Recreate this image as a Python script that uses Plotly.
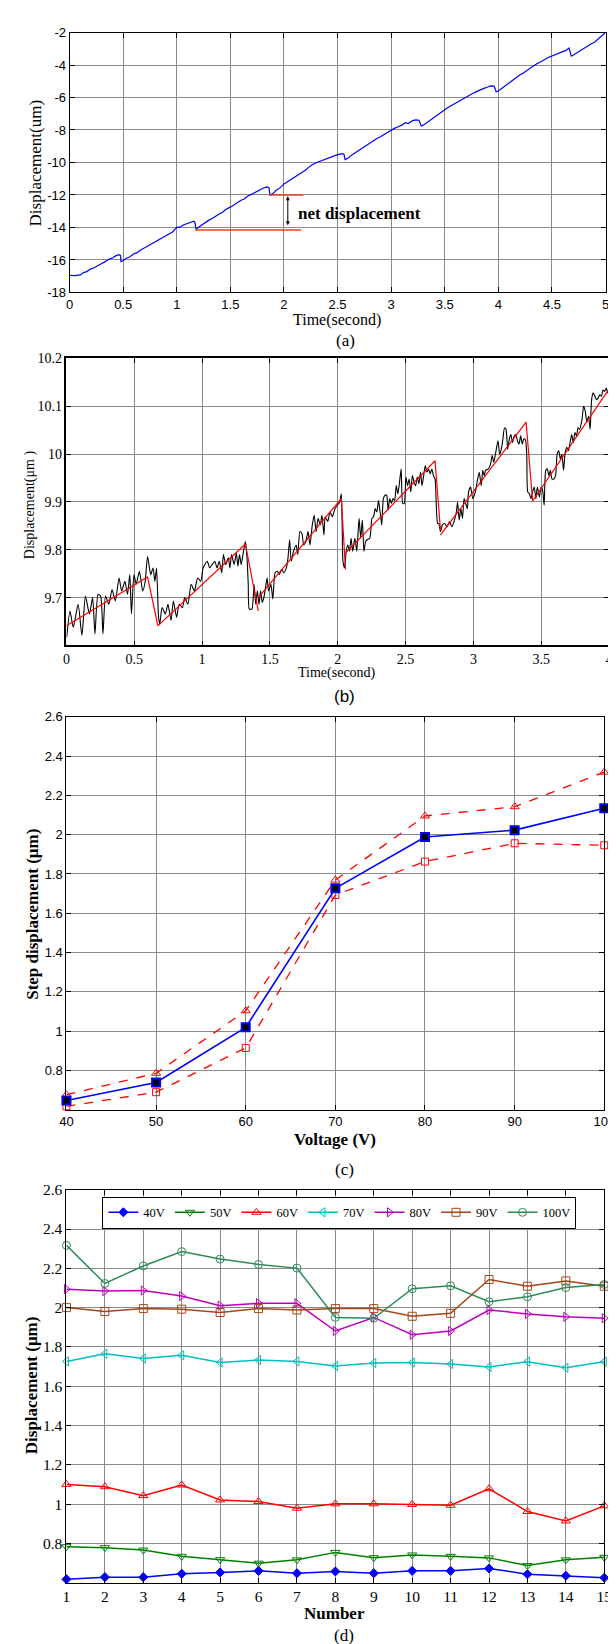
import plotly.graph_objects as go

W, H = 616, 1644
TIMES = "Liberation Serif, Times New Roman, serif"
ARIAL = "Liberation Sans, Arial, sans-serif"

# ---------------- Panel (a) data ----------------
a_time = [0, 0.05, 0.1, 0.13, 0.16, 0.2, 0.23, 0.26, 0.3, 0.33, 0.36, 0.4, 0.43, 0.46, 0.475, 0.48, 0.5,
          0.53, 0.56, 0.6, 0.63, 0.66, 0.7, 0.73, 0.76, 0.8, 0.83, 0.86, 0.9, 0.93, 0.96, 1.0, 1.03, 1.06, 1.1, 1.13, 1.16, 1.17, 1.18,
          1.2, 1.23, 1.26, 1.3, 1.33, 1.36, 1.4, 1.43, 1.46, 1.5, 1.53, 1.56, 1.6, 1.63, 1.66, 1.7, 1.73, 1.76, 1.8, 1.84, 1.86, 1.87,
          1.9, 1.93, 1.96, 2.0, 2.03, 2.06, 2.1, 2.13, 2.16, 2.2, 2.23, 2.26, 2.3, 2.33, 2.36, 2.4, 2.43, 2.46, 2.5, 2.55, 2.56, 2.57,
          2.6, 2.63, 2.66, 2.7, 2.73, 2.76, 2.8, 2.83, 2.86, 2.9, 2.93, 2.96, 3.0, 3.03, 3.06, 3.1, 3.13, 3.16, 3.2, 3.23, 3.26, 3.28,
          3.3, 3.33, 3.36, 3.4, 3.43, 3.46, 3.5, 3.53, 3.56, 3.6, 3.63, 3.66, 3.7, 3.73, 3.76, 3.8, 3.83, 3.86, 3.9, 3.93, 3.96, 3.98,
          4.0, 4.03, 4.06, 4.1, 4.13, 4.16, 4.2, 4.23, 4.26, 4.3, 4.33, 4.36, 4.4, 4.43, 4.46, 4.5, 4.53, 4.56, 4.6, 4.63, 4.66, 4.68,
          4.7, 4.73, 4.76, 4.8, 4.83, 4.86, 4.9, 4.93, 4.96, 5.0]
a_disp = [-16.95, -16.96, -16.92, -16.78, -16.72, -16.55, -16.48, -16.35, -16.22, -16.12, -15.98, -15.88, -15.75, -15.68, -15.72, -16.1, -16.05,
          -15.9, -15.82, -15.62, -15.55, -15.4, -15.25, -15.15, -15.02, -14.88, -14.78, -14.65, -14.5, -14.42, -14.28, -14.0, -13.98, -13.85, -13.75, -13.68, -13.62, -13.7, -14.12,
          -14.0, -13.85, -13.75, -13.55, -13.45, -13.3, -13.15, -13.05, -12.88, -12.75, -12.62, -12.5, -12.32, -12.25, -12.08, -11.95, -11.85, -11.7, -11.6, -11.5, -11.55, -12.0,
          -11.9, -11.7, -11.58, -11.32, -11.2, -11.05, -10.9, -10.78, -10.65, -10.48, -10.3, -10.15, -10.02, -9.95, -9.85, -9.75, -9.68, -9.6, -9.52, -9.45, -9.5, -9.82,
          -9.72, -9.55, -9.42, -9.25, -9.1, -8.98, -8.8, -8.7, -8.55, -8.42, -8.3, -8.15, -8.0, -7.9, -7.82, -7.7, -7.55, -7.6, -7.42, -7.38, -7.4, -7.75,
          -7.7, -7.55, -7.4, -7.2, -7.05, -6.92, -6.75, -6.62, -6.5, -6.35, -6.22, -6.1, -5.98, -5.85, -5.75, -5.62, -5.52, -5.45, -5.35, -5.28, -5.3, -5.65,
          -5.6, -5.45, -5.3, -5.08, -4.95, -4.8, -4.62, -4.5, -4.38, -4.2, -4.05, -3.92, -3.8, -3.68, -3.55, -3.45, -3.38, -3.3, -3.18, -3.1, -2.95, -3.45,
          -3.38, -3.25, -3.15, -2.98, -2.85, -2.72, -2.58, -2.4, -2.25, -2.0]
a_net_top_x = [1.86, 2.18]
a_net_top_y = [-12.0, -12.0]
a_net_bot_x = [1.175, 2.16]
a_net_bot_y = [-14.15, -14.15]

# ---------------- Panel (b) data ----------------
b_time = [0.002, 0.026, 0.05, 0.086, 0.114, 0.14, 0.169, 0.193, 0.21, 0.233, 0.252, 0.269, 0.288, 0.312, 0.336, 0.36,
          0.388, 0.407, 0.431, 0.45, 0.467, 0.479, 0.498, 0.514, 0.538, 0.562, 0.579, 0.598, 0.621, 0.638, 0.652, 0.664,
          0.679, 0.688, 0.705, 0.729, 0.748, 0.771, 0.788, 0.812, 0.831, 0.855, 0.871, 0.895, 0.919, 0.943, 0.967, 0.99, 1.007,
          1.038, 1.055, 1.074, 1.093, 1.11, 1.126, 1.145, 1.157, 1.174, 1.193, 1.205, 1.217, 1.236, 1.252, 1.264, 1.276, 1.288,
          1.305, 1.319, 1.331, 1.34, 1.348, 1.367, 1.383, 1.395, 1.407, 1.419, 1.431, 1.443, 1.455, 1.471, 1.479, 1.49, 1.507,
          1.521, 1.538, 1.555, 1.569, 1.586, 1.602, 1.621, 1.633, 1.645, 1.657, 1.674, 1.693, 1.705, 1.721, 1.736, 1.748, 1.764,
          1.781, 1.795, 1.812, 1.826, 1.84, 1.855, 1.871, 1.883, 1.898, 1.907, 1.926, 1.943, 1.96, 1.979,
          2.014, 2.026, 2.033, 2.038, 2.05, 2.062, 2.074, 2.086, 2.098, 2.11, 2.126, 2.14, 2.157, 2.169, 2.181, 2.193, 2.205,
          2.217, 2.236, 2.252, 2.264, 2.276, 2.288, 2.3, 2.312, 2.324, 2.336, 2.348, 2.36, 2.371, 2.383, 2.395, 2.407, 2.419,
          2.431, 2.443, 2.455, 2.467, 2.479, 2.49, 2.502, 2.514, 2.526, 2.538, 2.55, 2.562, 2.574, 2.586, 2.598, 2.61, 2.621,
          2.633, 2.645, 2.657, 2.669, 2.681, 2.693, 2.705, 2.717, 2.726, 2.736, 2.745, 2.757, 2.771, 2.788, 2.805, 2.824, 2.84,
          2.86, 2.874, 2.883, 2.895, 2.907, 2.919, 2.931, 2.943, 2.955, 2.964, 2.979, 2.995,
          3.014, 3.031, 3.043, 3.057, 3.069, 3.079, 3.09, 3.11, 3.126, 3.138, 3.15, 3.164, 3.181, 3.193, 3.205, 3.217, 3.229,
          3.24, 3.252, 3.264, 3.276, 3.288, 3.3, 3.312, 3.324, 3.336, 3.348, 3.36, 3.371, 3.383, 3.393, 3.4, 3.412, 3.424,
          3.436, 3.448, 3.46, 3.471, 3.486, 3.498, 3.51, 3.521, 3.533, 3.545, 3.555, 3.567, 3.579, 3.593, 3.605, 3.617, 3.629,
          3.64, 3.652, 3.664, 3.676, 3.688, 3.7, 3.712, 3.724, 3.736, 3.748, 3.76, 3.771, 3.783, 3.8, 3.812, 3.824, 3.836,
          3.848, 3.86, 3.871, 3.883, 3.895, 3.907, 3.919, 3.931, 3.943, 3.955, 3.967, 3.979, 3.99, 4.0]
b_disp = [9.617, 9.672, 9.638, 9.686, 9.621, 9.703, 9.666, 9.700, 9.624, 9.707, 9.703, 9.624, 9.703, 9.686, 9.717, 9.693,
          9.741, 9.714, 9.734, 9.707, 9.748, 9.666, 9.748, 9.728, 9.755, 9.714, 9.731, 9.786, 9.748, 9.762, 9.734, 9.762,
          9.659, 9.645, 9.679, 9.666, 9.686, 9.652, 9.693, 9.659, 9.686, 9.679, 9.700, 9.686, 9.728, 9.714, 9.741, 9.734, 9.762,
          9.776, 9.762, 9.769, 9.776, 9.762, 9.776, 9.752, 9.790, 9.769, 9.783, 9.762, 9.790, 9.769, 9.793, 9.766, 9.790, 9.769,
          9.797, 9.817, 9.783, 9.728, 9.676, 9.676, 9.728, 9.686, 9.714, 9.686, 9.714, 9.690, 9.700, 9.728, 9.741, 9.714, 9.728,
          9.697, 9.752, 9.755, 9.748, 9.759, 9.752, 9.762, 9.783, 9.821, 9.776, 9.797, 9.810, 9.790, 9.838, 9.834, 9.810, 9.817,
          9.838, 9.810, 9.852, 9.872, 9.838, 9.866, 9.852, 9.872, 9.831, 9.869, 9.859, 9.879, 9.869, 9.886,
          9.900, 9.917, 9.838, 9.776, 9.762, 9.797, 9.810, 9.797, 9.824, 9.797, 9.824, 9.797, 9.866, 9.824, 9.862, 9.797, 9.817,
          9.821, 9.824, 9.866, 9.869, 9.886, 9.879, 9.903, 9.879, 9.852, 9.907, 9.914, 9.914, 9.883, 9.907, 9.897, 9.907, 9.903,
          9.934, 9.917, 9.941, 9.969, 9.897, 9.897, 9.952, 9.934, 9.948, 9.921, 9.955, 9.941, 9.934, 9.952, 9.938, 9.962, 9.934,
          9.955, 9.976, 9.962, 9.969, 9.959, 9.969, 9.955, 9.948, 9.893, 9.855, 9.855, 9.838, 9.852, 9.855, 9.848, 9.859, 9.848,
          9.862, 9.879, 9.900, 9.862, 9.886, 9.866, 9.907, 9.897, 9.886, 9.921, 9.931, 9.907,
          9.921, 9.948, 9.962, 9.934, 9.966, 9.955, 9.966, 9.969, 9.979, 9.997, 9.983, 10.003, 10.028, 10.000, 10.010, 10.031, 10.055,
          10.052, 10.010, 10.031, 10.041, 10.024, 10.038, 10.041, 10.028, 10.021, 10.038, 10.021, 10.032, 10.030, 9.997, 9.921, 9.917, 9.907,
          9.921, 9.931, 9.907, 9.931, 9.910, 9.931, 9.924, 9.893, 9.966, 9.969, 9.955, 9.966, 9.948, 9.948, 9.955, 10.000, 10.007,
          9.990, 10.000, 9.966, 10.003, 10.014, 10.007, 10.024, 10.041, 10.024, 10.045, 10.038, 10.055, 10.052, 10.072, 10.100, 10.090, 10.066,
          10.079, 10.052, 10.114, 10.128, 10.121, 10.114, 10.117, 10.124, 10.121, 10.134, 10.131, 10.138, 10.128, 10.136]
b_fit_time = [0, 0.598, 0.674, 1.319, 1.414, None, 1.414, 2.026, 2.057, None, 2.057, 2.717, 2.757, None, 2.757, 3.388, 3.436, 4.0]
b_fit_disp = [9.641, 9.743, 9.641, 9.812, 9.672, None, 9.700, 9.907, 9.759, None, 9.793, 9.986, 9.841, None, 9.831, 10.067, 9.902, 10.136]

# ---------------- Panel (c) data ----------------
c_voltage = [40, 50, 60, 70, 80, 90, 100]
c_mean = [0.648, 0.739, 1.020, 1.727, 1.988, 2.023, 2.134]
c_max = [0.677, 0.786, 1.104, 1.769, 2.095, 2.142, 2.318]
c_min = [0.618, 0.690, 0.915, 1.693, 1.863, 1.956, 1.946]

# ---------------- Panel (d) data ----------------
d_number = list(range(1, 16))
d_series = {
    "40V": [0.617, 0.628, 0.628, 0.645, 0.652, 0.660, 0.648, 0.657, 0.648, 0.660, 0.660, 0.672, 0.643, 0.635, 0.625],
    "50V": [0.783, 0.778, 0.766, 0.734, 0.717, 0.699, 0.716, 0.754, 0.727, 0.741, 0.734, 0.726, 0.687, 0.716, 0.729],
    "60V": [1.100, 1.088, 1.043, 1.097, 1.021, 1.013, 0.979, 1.001, 1.001, 0.998, 0.994, 1.078, 0.962, 0.914, 0.991],
    "70V": [1.726, 1.765, 1.741, 1.757, 1.721, 1.733, 1.726, 1.703, 1.718, 1.720, 1.713, 1.698, 1.725, 1.694, 1.725],
    "80V": [2.094, 2.084, 2.087, 2.059, 2.010, 2.022, 2.022, 1.881, 1.950, 1.862, 1.881, 1.988, 1.968, 1.953, 1.946],
    "90V": [2.000, 1.980, 1.995, 1.992, 1.975, 1.995, 1.988, 1.995, 1.995, 1.956, 1.971, 2.143, 2.109, 2.136, 2.109],
    "100V": [2.317, 2.123, 2.212, 2.285, 2.247, 2.220, 2.201, 1.950, 1.946, 2.096, 2.111, 2.030, 2.055, 2.102, 2.118],
}
d_colors = {"40V": "#0000FF", "50V": "#008000", "60V": "#FF0000", "70V": "#00BFBF",
            "80V": "#BF00BF", "90V": "#A5461A", "100V": "#2E8B57"}
d_symbols = {"40V": "diamond", "50V": "triangle-down-open", "60V": "triangle-up-open", "70V": "triangle-left-open",
             "80V": "triangle-right-open", "90V": "square-open", "100V": "circle-open"}

# ---------------- helpers ----------------
def xd(l, r):
    return [l / W, r / W]

def yd(top, bottom):
    return [1 - bottom / H, 1 - top / H]

GRID = "#8a8a8a"

def ax_common(tickfont, **kw):
    d = dict(showline=True, linecolor="black", linewidth=1, mirror="ticks", ticks="inside", ticklen=5,
             tickcolor="black", showgrid=True, gridcolor=GRID, gridwidth=1, zeroline=False,
             tickfont=tickfont)
    d.update(kw)
    return d

fig = go.Figure()

# Panel (a)
fig.add_trace(go.Scatter(x=a_time, y=a_disp, mode="lines", line=dict(color="#0000FF", width=1.2),
                         xaxis="x", yaxis="y", showlegend=False))
fig.add_trace(go.Scatter(x=a_net_top_x, y=a_net_top_y, mode="lines", line=dict(color="#E8401C", width=1.5),
                         xaxis="x", yaxis="y", showlegend=False))
fig.add_trace(go.Scatter(x=a_net_bot_x, y=a_net_bot_y, mode="lines", line=dict(color="#E8401C", width=1.5),
                         xaxis="x", yaxis="y", showlegend=False))

# Panel (b)
fig.add_trace(go.Scatter(x=b_time, y=b_disp, mode="lines", line=dict(color="black", width=1.1, shape="spline", smoothing=0.6),
                         xaxis="x2", yaxis="y2", showlegend=False))
fig.add_trace(go.Scatter(x=b_fit_time, y=b_fit_disp, mode="lines", line=dict(color="#FF0000", width=1.2),
                         xaxis="x2", yaxis="y2", showlegend=False, connectgaps=False))

# Panel (c)
fig.add_trace(go.Scatter(x=c_voltage, y=c_max, mode="lines+markers", line=dict(color="#FF0000", width=1.3, dash="dash"),
                         marker=dict(symbol="triangle-up-open", size=8, color="#FF0000", line=dict(width=1)),
                         xaxis="x3", yaxis="y3", showlegend=False, cliponaxis=False))
fig.add_trace(go.Scatter(x=c_voltage, y=c_min, mode="lines+markers", line=dict(color="#FF0000", width=1.3, dash="dash"),
                         marker=dict(symbol="square-open", size=7, color="#FF0000", line=dict(width=1)),
                         xaxis="x3", yaxis="y3", showlegend=False, cliponaxis=False))
fig.add_trace(go.Scatter(x=c_voltage, y=c_mean, mode="lines+markers", line=dict(color="#0000FF", width=1.6),
                         marker=dict(symbol="square", size=8, color="black", line=dict(color="#0000FF", width=2)),
                         xaxis="x3", yaxis="y3", showlegend=False, cliponaxis=False))

# Panel (d)
for name, vals in d_series.items():
    col = d_colors[name]
    fig.add_trace(go.Scatter(x=d_number, y=vals, mode="lines+markers", name=name,
                             line=dict(color=col, width=1.5),
                             marker=dict(symbol=d_symbols[name], size=8 if name != "40V" else 7, color=col,
                                         line=dict(color=col, width=1)),
                             xaxis="x4", yaxis="y4", cliponaxis=False))

f_arial = dict(family=ARIAL, size=13, color="black")
f_times14 = dict(family=TIMES, size=14, color="black")
f_times16 = dict(family=TIMES, size=15.5, color="black")

fig.update_layout(
    width=W, height=H, margin=dict(l=0, r=0, t=0, b=0),
    paper_bgcolor="white", plot_bgcolor="white",
    xaxis=ax_common(f_arial, domain=xd(56.2, 608.3), range=[0, 5], tickmode="array",
                    tickvals=[0, 0.5, 1, 1.5, 2, 2.5, 3, 3.5, 4, 4.5, 5],
                    ticktext=["0", "0.5", "1", "1.5", "2", "2.5", "3", "3.5", "4", "4.5", "5"], anchor="y"),
    yaxis=ax_common(f_arial, domain=yd(15.7, 278.3), range=[-18, -2], tickmode="array",
                    tickvals=[-18, -16, -14, -12, -10, -8, -6, -4, -2],
                    ticktext=["-18", "-16", "-14", "-12", "-10", "-8", "-6", "-4", "-2"], anchor="x"),
    xaxis2=ax_common(f_times14, domain=xd(53, 612), range=[0, 4], tickmode="array",
                     tickvals=[0, 0.5, 1, 1.5, 2, 2.5, 3, 3.5, 4],
                     ticktext=["0", "0.5", "1", "1.5", "2", "2.5", "3", "3.5", "4"], anchor="y2", linewidth=1.5),
    yaxis2=ax_common(f_times14, domain=yd(345, 635), range=[9.6, 10.2], tickmode="array",
                     tickvals=[9.7, 9.8, 9.9, 10.0, 10.1, 10.2],
                     ticktext=["9.7", "9.8", "9.9", "10", "10.1", "10.2"], anchor="x2", linewidth=1.5),
    xaxis3=ax_common(f_arial, domain=xd(53, 607), range=[40, 100], tickmode="array",
                     tickvals=[40, 50, 60, 70, 80, 90, 100],
                     ticktext=["40", "50", "60", "70", "80", "90", "100"], anchor="y3"),
    yaxis3=ax_common(f_arial, domain=yd(707, 1104.3), range=[0.6, 2.6], tickmode="array",
                     tickvals=[0.8, 1.0, 1.2, 1.4, 1.6, 1.8, 2.0, 2.2, 2.4, 2.6],
                     ticktext=["0.8", "1", "1.2", "1.4", "1.6", "1.8", "2", "2.2", "2.4", "2.6"], anchor="x3"),
    xaxis4=ax_common(f_times16, domain=xd(53, 607), range=[1, 15], tickmode="array",
                     tickvals=d_number, ticktext=[str(n) for n in d_number], anchor="y4"),
    yaxis4=ax_common(f_times16, domain=yd(1185, 1582), range=[0.6, 2.6], tickmode="array",
                     tickvals=[0.8, 1.0, 1.2, 1.4, 1.6, 1.8, 2.0, 2.2, 2.4, 2.6],
                     ticktext=["0.8", "1", "1.2", "1.4", "1.6", "1.8", "2", "2.2", "2.4", "2.6"], anchor="x4"),
    legend=dict(orientation="h", x=90 / W, y=1 - 1192 / H, xanchor="left", yanchor="top",
                bgcolor="white", bordercolor="black", borderwidth=1,
                font=dict(family=TIMES, size=12.5, color="black"), itemwidth=30, tracegroupgap=0),
)

def py(px):
    return 1 - px / H

def pxx(px):
    return px / W

ann = []
# Panel (a)
ann.append(dict(text="Displacement(um)", x=pxx(21.6), y=py(147), textangle=-90, font=dict(family=TIMES, size=17)))
ann.append(dict(text="Time(second)", x=pxx(332), y=py(306), font=dict(family=TIMES, size=16)))
ann.append(dict(text="(a)", x=pxx(340), y=py(327), font=dict(family=TIMES, size=17)))
# Panel (b)
ann.append(dict(text="Displacement(μm )", x=pxx(15.7), y=py(493), textangle=-90, font=dict(family=TIMES, size=14)))
ann.append(dict(text="Time(second)", x=pxx(332), y=py(663), font=dict(family=TIMES, size=14)))
ann.append(dict(text="(b)", x=pxx(339), y=py(687), font=dict(family=ARIAL, size=17)))
# Panel (c)
ann.append(dict(text="<b>Step displacement (μm)</b>", x=pxx(17.7), y=py(907), textangle=-90, font=dict(family=TIMES, size=17)))
ann.append(dict(text="<b>Voltage (V)</b>", x=pxx(330), y=py(1134), font=dict(family=TIMES, size=17)))
ann.append(dict(text="(c)", x=pxx(339), y=py(1165), font=dict(family=TIMES, size=17)))
# Panel (d)
ann.append(dict(text="<b>Displacement (μm)</b>", x=pxx(17), y=py(1383), textangle=-90, font=dict(family=TIMES, size=17)))
ann.append(dict(text="<b>Number</b>", x=pxx(329), y=py(1613), font=dict(family=TIMES, size=17)))
ann.append(dict(text="(d)", x=pxx(339), y=py(1635), font=dict(family=TIMES, size=17)))

for a in ann:
    a.update(xref="paper", yref="paper", showarrow=False, xanchor="center", yanchor="middle")
    a["font"]["color"] = "black"

# net displacement arrow and label in panel (a)
ann.append(dict(x=2.036, y=-12.08, ax=2.036, ay=-13.95, xref="x", yref="y", axref="x", ayref="y",
                showarrow=True, arrowhead=2, arrowside="end+start", arrowsize=0.8, arrowwidth=1,
                arrowcolor="black", text=""))
ann.append(dict(x=2.11, y=-13.15, xref="x", yref="y", text="<b>net displacement</b>", showarrow=False,
                xanchor="left", yanchor="middle", font=dict(family=TIMES, size=17, color="black")))

fig.update_layout(annotations=ann)
fig.write_html("out.html")
